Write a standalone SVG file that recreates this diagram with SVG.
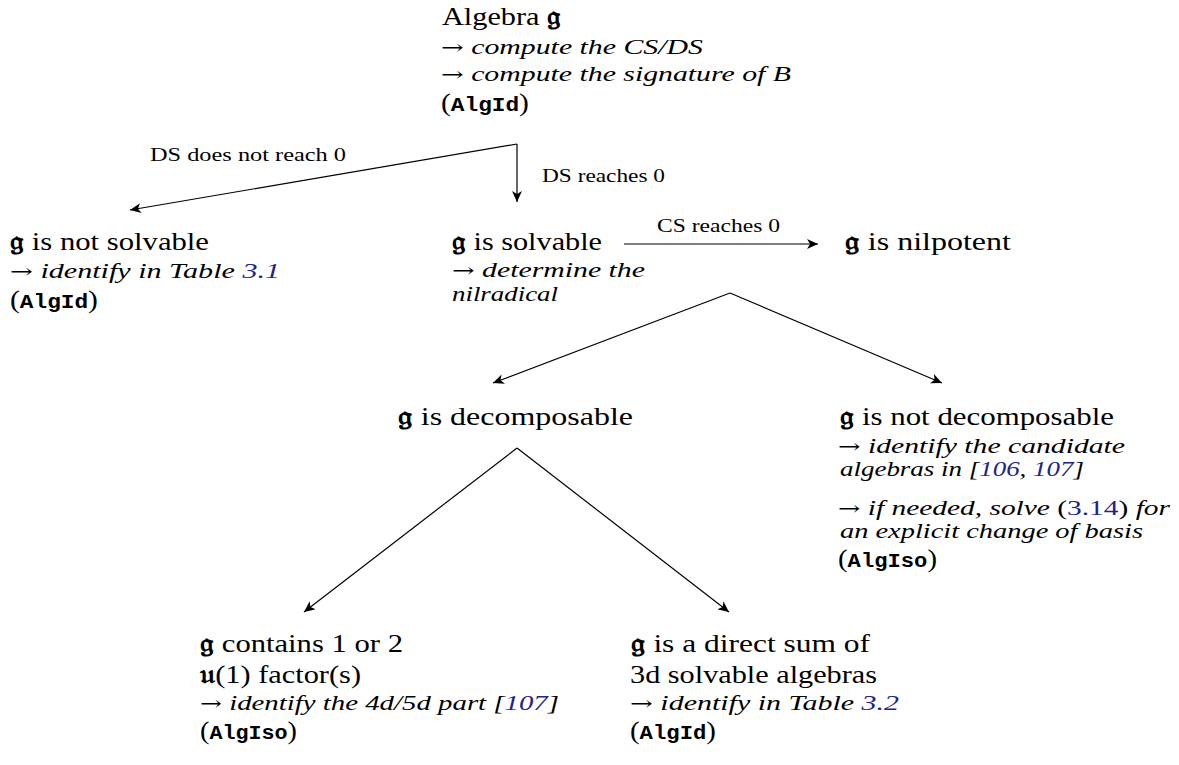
<svg xmlns="http://www.w3.org/2000/svg" width="1179" height="765" viewBox="0 0 1179 765">
<style>
.m{font-family:"Liberation Serif","DejaVu Serif",serif;font-size:26px;fill:#000}
.i{font-family:"Liberation Serif","DejaVu Serif",serif;font-size:22px;font-style:italic;fill:#000}
.l{font-family:"Liberation Serif","DejaVu Serif",serif;font-size:18px;fill:#000}
.t{font-family:"Liberation Mono",monospace;font-weight:bold;font-size:20px}
.p{font-style:normal}
.r{font-style:normal;font-family:"DejaVu Serif",serif;font-size:20px}
.b{fill:#232388}
.f{font-family:"DejaVu Serif","Noto Sans",serif;font-weight:bold}
.c{fill:none;stroke:#000;stroke-width:1.2}
</style>
<defs>
<marker id="a" markerWidth="12" markerHeight="10" refX="11" refY="5" orient="auto" markerUnits="userSpaceOnUse">
<path d="M0,0 L11,5 L0,10 L3,5 Z" fill="#000"/>
</marker>
</defs>
<g id="connectors">
<line class="c" x1="517" y1="144" x2="130" y2="210" marker-end="url(#a)"/>
<line class="c" x1="517" y1="144" x2="517" y2="202" marker-end="url(#a)"/>
<line class="c" x1="624" y1="244" x2="818" y2="244" marker-end="url(#a)"/>
<line class="c" x1="730" y1="293" x2="493" y2="383" marker-end="url(#a)"/>
<line class="c" x1="730" y1="293" x2="942" y2="383" marker-end="url(#a)"/>
<line class="c" x1="517" y1="448" x2="304" y2="612" marker-end="url(#a)"/>
<line class="c" x1="517" y1="448" x2="729" y2="612" marker-end="url(#a)"/>
<text class="l" x="150" y="161" textLength="196" lengthAdjust="spacingAndGlyphs">DS does not reach 0</text>
<text class="l" x="542" y="182" textLength="123" lengthAdjust="spacingAndGlyphs">DS reaches 0</text>
<text class="l" x="657" y="232" textLength="123" lengthAdjust="spacingAndGlyphs">CS reaches 0</text>
</g>
<g id="n-algebra">
<text class="m" x="442" y="25" textLength="119" lengthAdjust="spacingAndGlyphs">Algebra <tspan class="f">𝔤</tspan></text>
<text class="i" x="441" y="54" textLength="262" lengthAdjust="spacingAndGlyphs"><tspan class="r">→</tspan> compute the CS/DS</text>
<text class="i" x="441" y="81" textLength="350" lengthAdjust="spacingAndGlyphs"><tspan class="r">→</tspan> compute the signature of B</text>
<text class="m" x="441" y="111" textLength="88" lengthAdjust="spacingAndGlyphs">(<tspan class="t">AlgId</tspan>)</text>
</g>
<g id="n-notsolvable">
<text class="m" x="10" y="250" textLength="199" lengthAdjust="spacingAndGlyphs"><tspan class="f">𝔤</tspan> is not solvable</text>
<text class="i" x="10" y="278" textLength="270" lengthAdjust="spacingAndGlyphs"><tspan class="r">→</tspan> identify in Table <tspan class="b">3.1</tspan></text>
<text class="m" x="10" y="308" textLength="88" lengthAdjust="spacingAndGlyphs">(<tspan class="t">AlgId</tspan>)</text>
</g>
<g id="n-solvable">
<text class="m" x="452" y="250" textLength="150" lengthAdjust="spacingAndGlyphs"><tspan class="f">𝔤</tspan> is solvable</text>
<text class="i" x="452" y="277" textLength="193" lengthAdjust="spacingAndGlyphs"><tspan class="r">→</tspan> determine the</text>
<text class="i" x="452" y="301" textLength="106" lengthAdjust="spacingAndGlyphs">nilradical</text>
</g>
<g id="n-nilpotent">
<text class="m" x="845" y="250" textLength="166" lengthAdjust="spacingAndGlyphs"><tspan class="f">𝔤</tspan> is nilpotent</text>
</g>
<g id="n-decomp">
<text class="m" x="398" y="425" textLength="235" lengthAdjust="spacingAndGlyphs"><tspan class="f">𝔤</tspan> is decomposable</text>
</g>
<g id="n-notdecomp">
<text class="m" x="840" y="425" textLength="274" lengthAdjust="spacingAndGlyphs"><tspan class="f">𝔤</tspan> is not decomposable</text>
<text class="i" x="838" y="453" textLength="287" lengthAdjust="spacingAndGlyphs"><tspan class="r">→</tspan> identify the candidate</text>
<text class="i" x="840" y="476" textLength="244" lengthAdjust="spacingAndGlyphs">algebras in [<tspan class="b">106</tspan>, <tspan class="b">107</tspan>]</text>
<text class="i" x="838" y="515" textLength="332" lengthAdjust="spacingAndGlyphs"><tspan class="r">→</tspan> if needed, solve <tspan class="p">(<tspan class="b">3.14</tspan>)</tspan> for</text>
<text class="i" x="840" y="538" textLength="303" lengthAdjust="spacingAndGlyphs">an explicit change of basis</text>
<text class="m" x="838" y="567" textLength="99" lengthAdjust="spacingAndGlyphs">(<tspan class="t">AlgIso</tspan>)</text>
</g>
<g id="n-u1">
<text class="m" x="200" y="652" textLength="203" lengthAdjust="spacingAndGlyphs"><tspan class="f">𝔤</tspan> contains 1 or 2</text>
<text class="m" x="200" y="683" textLength="161" lengthAdjust="spacingAndGlyphs"><tspan class="f">𝔲</tspan>(1) factor(s)</text>
<text class="i" x="200" y="710" textLength="359" lengthAdjust="spacingAndGlyphs"><tspan class="r">→</tspan> identify the 4d/5d part [<tspan class="b">107</tspan>]</text>
<text class="m" x="200" y="739" textLength="97" lengthAdjust="spacingAndGlyphs">(<tspan class="t">AlgIso</tspan>)</text>
</g>
<g id="n-directsum">
<text class="m" x="631" y="652" textLength="239" lengthAdjust="spacingAndGlyphs"><tspan class="f">𝔤</tspan> is a direct sum of</text>
<text class="m" x="630" y="683" textLength="247" lengthAdjust="spacingAndGlyphs">3d solvable algebras</text>
<text class="i" x="630" y="710" textLength="269" lengthAdjust="spacingAndGlyphs"><tspan class="r">→</tspan> identify in Table <tspan class="b">3.2</tspan></text>
<text class="m" x="630" y="739" textLength="86" lengthAdjust="spacingAndGlyphs">(<tspan class="t">AlgId</tspan>)</text>
</g>
</svg>
